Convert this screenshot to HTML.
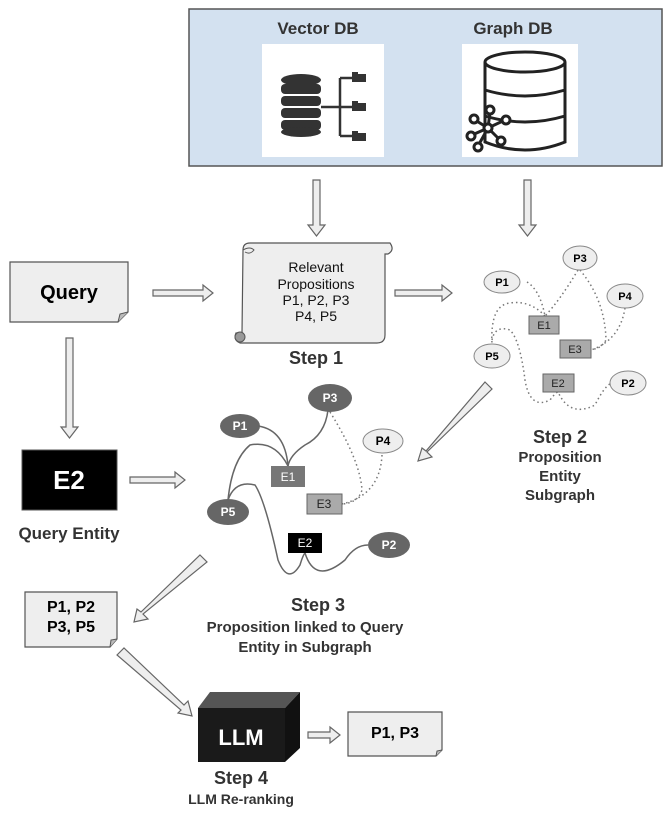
<!DOCTYPE html>
<html><head><meta charset="utf-8"><style>
html,body{margin:0;padding:0;background:#fff;}
svg{display:block;font-family:"Liberation Sans",sans-serif;}
</style></head><body>
<svg width="670" height="820" viewBox="0 0 670 820" xmlns="http://www.w3.org/2000/svg">
<rect x="189" y="9" width="473" height="157" fill="#d3e1f0" stroke="#555" stroke-width="1.5"/>
<text x="318" y="34" text-anchor="middle" font-size="17" font-weight="bold" fill="#333">Vector DB</text>
<text x="513" y="34" text-anchor="middle" font-size="17" font-weight="bold" fill="#333">Graph DB</text>
<rect x="262" y="44" width="122" height="113" fill="#fff"/>
<rect x="462" y="44" width="116" height="113" fill="#fff"/>
<g fill="#333">
<ellipse cx="301" cy="80" rx="20" ry="6"/>
<rect x="281" y="84" width="40" height="10" rx="4"/>
<rect x="281" y="96" width="40" height="10" rx="4"/>
<rect x="281" y="108" width="40" height="10" rx="4"/>
<rect x="281" y="120" width="40" height="10" rx="4"/>
<ellipse cx="301" cy="132" rx="20" ry="5"/>
<path d="M352 72 h6 v2 h8 v8 h-14 z M352 101 h6 v2 h8 v8 h-14 z M352 131 h6 v2 h8 v8 h-14 z"/>
</g>
<path d="M321 107 H340 M340 78 V136 M340 78 H352 M340 107 H352 M340 136 H352" stroke="#333" stroke-width="2.5" fill="none"/>
<g fill="none" stroke="#222" stroke-width="3">
<ellipse cx="525" cy="62" rx="40" ry="10"/>
<path d="M485 62 V142 Q525 158 565 142 V62 M485 90 Q525 102 565 90 M485 116 Q525 128 565 116"/>
</g>
<g stroke="#222" stroke-width="3" fill="#fff">
<path d="M488 128 L490 112 M488 128 L475 120 M488 128 L472 135 M488 128 L478 146 M488 128 L500 140 M488 128 L505 120"/>
<circle cx="488" cy="128" r="4"/><circle cx="490" cy="110" r="4"/><circle cx="474" cy="119" r="4"/><circle cx="471" cy="136" r="4"/><circle cx="478" cy="147" r="4"/><circle cx="501" cy="141" r="4"/><circle cx="506" cy="120" r="4"/>
</g>
<g fill="#eee" stroke="#666" stroke-width="1.2">
<polygon points="313,180 320,180 320,225 325,225 316.5,236 308,225 313,225"/>
<polygon points="524,180 531,180 531,225 536,225 527.5,236 519,225 524,225"/>
</g>
<path d="M10 262 H128 V312 L118 322 H10 Z" fill="#eee" stroke="#555" stroke-width="1.2"/>
<path d="M118 322 L120 314 L128 312" fill="#bbb" stroke="#555" stroke-width="1"/>
<text x="69" y="299" text-anchor="middle" font-size="20" font-weight="bold">Query</text>
<g fill="#eee" stroke="#666" stroke-width="1.2">
<polygon points="153,290 203,290 203,285 213,293 203,301 203,296 153,296"/>
<polygon points="395,290 442,290 442,285 452,293 442,301 442,296 395,296"/>
<polygon points="130,477 175,477 175,472 185,480 175,488 175,483 130,483"/>
<polygon points="308,732 330,732 330,727 340,735 330,743 330,738 308,738"/>
<polygon points="66,338 73,338 73,427 78,427 69.5,438 61,427 66,427"/>
<polygon points="485,382 492,389 427,452 432,457 418,461 422,448 426,451"/>
<polygon points="200,555 207,562 143,614 148,619 134,622 137,609 141,612"/>
<polygon points="117,655 124,648 184,705 188,701 192,716 178,713 181,710"/>
</g>
<path d="M243 250 Q243 243 250 243 H390 Q395 250 388 254 H385 V335 Q385 343 377 343 H240 Q233 340 236 333 H242 Z" fill="#eee" stroke="#555" stroke-width="1.2"/>
<circle cx="240" cy="337" r="5" fill="#999" stroke="#555"/>
<path d="M243 250 Q250 246 254 250 Q250 255 245 252" fill="none" stroke="#555"/>
<g text-anchor="middle" font-size="14" fill="#111">
<text x="316" y="272">Relevant</text>
<text x="316" y="289">Propositions</text>
<text x="316" y="305">P1, P2, P3</text>
<text x="316" y="321">P4, P5</text>
</g>
<text x="316" y="364" text-anchor="middle" font-size="18" font-weight="bold" fill="#333">Step 1</text>
<g fill="none" stroke="#777" stroke-width="1.5" stroke-dasharray="1.5 3">
<path d="M527 282 Q540 290 545 316"/>
<path d="M578 270 Q560 300 545 316"/>
<path d="M580 270 Q605 300 606 340 Q600 350 591 349"/>
<path d="M625 308 Q620 340 591 350"/>
<path d="M545 316 Q530 300 510 303 Q490 305 492 344"/>
<path d="M492 340 Q495 325 510 330 Q520 340 525 380 Q530 410 550 400 Q556 392 558 392 Q570 418 595 405 Q605 385 612 383"/>
</g>
<g font-size="11" font-weight="bold" text-anchor="middle">
<ellipse cx="580" cy="258" rx="17" ry="12" fill="#eee" stroke="#888"/><text x="580" y="262">P3</text>
<ellipse cx="502" cy="282" rx="18" ry="11" fill="#eee" stroke="#888"/><text x="502" y="286">P1</text>
<ellipse cx="625" cy="296" rx="18" ry="12" fill="#eee" stroke="#888"/><text x="625" y="300">P4</text>
<ellipse cx="492" cy="356" rx="18" ry="12" fill="#eee" stroke="#888"/><text x="492" y="360">P5</text>
<ellipse cx="628" cy="383" rx="18" ry="12" fill="#eee" stroke="#888"/><text x="628" y="387">P2</text>
</g>
<g font-size="11" text-anchor="middle" fill="#222">
<rect x="529" y="316" width="30" height="18" fill="#aaa" stroke="#666"/><text x="544" y="329">E1</text>
<rect x="560" y="340" width="31" height="18" fill="#aaa" stroke="#666"/><text x="575" y="353">E3</text>
<rect x="543" y="374" width="31" height="18" fill="#aaa" stroke="#666"/><text x="558" y="387">E2</text>
</g>
<g text-anchor="middle" fill="#333" font-weight="bold">
<text x="560" y="443" font-size="18">Step 2</text>
<text x="560" y="462" font-size="15">Proposition</text>
<text x="560" y="481" font-size="15">Entity</text>
<text x="560" y="500" font-size="15">Subgraph</text>
</g>
<rect x="22" y="450" width="95" height="60" fill="#000" stroke="#555"/>
<text x="69" y="489" text-anchor="middle" font-size="26" font-weight="bold" fill="#fff">E2</text>
<text x="69" y="539" text-anchor="middle" font-size="17" font-weight="bold" fill="#333">Query Entity</text>
<g fill="none" stroke="#666" stroke-width="1.5">
<path d="M258 426 Q285 430 288 466"/>
<path d="M328 410 Q325 435 305 445 Q290 455 288 466"/>
<path d="M288 466 Q275 440 250 445 Q232 460 228 500"/>
<path d="M228 500 Q235 480 255 485 Q265 500 278 560 Q288 585 300 565 Q303 555 305 553 Q315 585 345 560 Q355 545 368 545"/>
</g>
<g fill="none" stroke="#777" stroke-width="1.5" stroke-dasharray="1.5 3">
<path d="M330 412 Q360 460 362 490 Q358 503 342 504"/>
<path d="M382 455 Q380 495 342 504"/>
</g>
<g font-size="12" font-weight="bold" text-anchor="middle">
<ellipse cx="240" cy="426" rx="20" ry="12" fill="#666"/><text x="240" y="430" fill="#fff">P1</text>
<ellipse cx="330" cy="398" rx="22" ry="14" fill="#666"/><text x="330" y="402" fill="#fff">P3</text>
<ellipse cx="383" cy="441" rx="20" ry="12" fill="#eee" stroke="#888"/><text x="383" y="445">P4</text>
<ellipse cx="228" cy="512" rx="21" ry="13" fill="#666"/><text x="228" y="516" fill="#fff">P5</text>
<ellipse cx="389" cy="545" rx="21" ry="13" fill="#666"/><text x="389" y="549" fill="#fff">P2</text>
</g>
<g font-size="12" text-anchor="middle">
<rect x="271" y="466" width="34" height="21" fill="#777"/><text x="288" y="481" fill="#fff">E1</text>
<rect x="307" y="494" width="35" height="20" fill="#aaa" stroke="#666"/><text x="324" y="508" fill="#222">E3</text>
<rect x="288" y="533" width="34" height="20" fill="#000"/><text x="305" y="547" fill="#fff">E2</text>
</g>
<g text-anchor="middle" fill="#333" font-weight="bold">
<text x="318" y="611" font-size="18">Step 3</text>
<text x="305" y="632" font-size="15">Proposition linked to Query</text>
<text x="305" y="652" font-size="15">Entity in Subgraph</text>
</g>
<path d="M25 592 H117 V639 L110 647 H25 Z" fill="#eee" stroke="#555" stroke-width="1.2"/>
<path d="M110 647 L111 640 L117 639" fill="#bbb" stroke="#555"/>
<g text-anchor="middle" font-size="16" font-weight="bold">
<text x="71" y="612">P1, P2</text><text x="71" y="632">P3, P5</text>
</g>
<polygon points="198,708 210,692 300,692 285,708" fill="#555"/>
<polygon points="285,708 300,692 300,748 285,762" fill="#111"/>
<rect x="198" y="708" width="87" height="54" fill="#1a1a1a"/>
<text x="241" y="745" text-anchor="middle" font-size="22" font-weight="bold" fill="#fff">LLM</text>
<path d="M348 712 H442 V750 L436 756 H348 Z" fill="#eee" stroke="#555" stroke-width="1.2"/>
<path d="M436 756 L437 751 L442 750" fill="#bbb" stroke="#555"/>
<text x="395" y="738" text-anchor="middle" font-size="16" font-weight="bold">P1, P3</text>
<text x="241" y="784" text-anchor="middle" font-size="18" font-weight="bold" fill="#333">Step 4</text>
<text x="241" y="804" text-anchor="middle" font-size="14" font-weight="bold" fill="#333">LLM Re-ranking</text>
</svg>
</body></html>
